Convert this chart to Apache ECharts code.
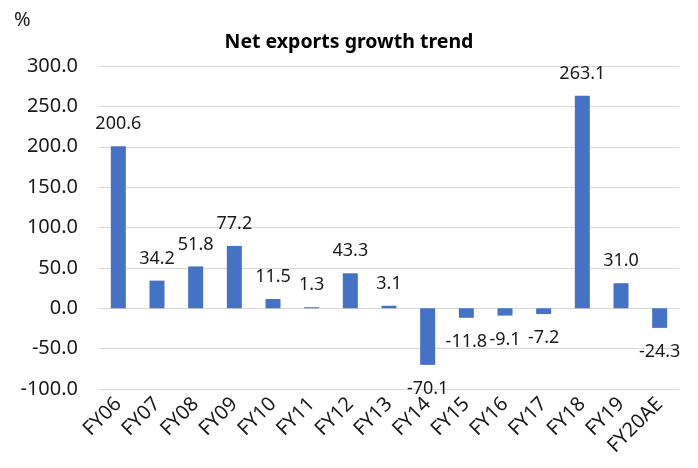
<!DOCTYPE html>
<html><head><meta charset="utf-8">
<script src="https://cdn.jsdelivr.net/npm/echarts@6/dist/echarts.min.js"></script>
<style>html,body{margin:0;padding:0;background:#fff}#c{width:698px;height:468px}</style>
</head><body><div id="c"></div>
<script>
var categories = ['FY06','FY07','FY08','FY09','FY10','FY11','FY12','FY13','FY14','FY15','FY16','FY17','FY18','FY19','FY20AE'];
var growth = [200.6, 34.2, 51.8, 77.2, 11.5, 1.3, 43.3, 3.1, -70.1, -11.8, -9.1, -7.2, 263.1, 31.0, -24.3];
var yTicks = {min: -100, max: 300, interval: 50};
var titleText = 'Net exports growth trend';
var unitText = '%';

var font = '"Noto Sans", sans-serif';
var chart = echarts.init(document.getElementById('c'));
chart.setOption({
  animation: false,
  title: {text: titleText, left: 'center', top: 27, textStyle: {fontFamily: font, fontWeight: 'bold', fontSize: 19.5, color: '#000'}},
  graphic: [{type: 'text', left: 14, top: 10, style: {text: unitText, fontFamily: font, fontSize: 20, fill: '#1a1a1a'}}],
  grid: {left: 99, right: 19, top: 66, bottom: 79, containLabel: false},
  xAxis: {
    type: 'category', data: categories,
    axisLine: {lineStyle: {color: '#d9d9d9', width: 1}},
    axisTick: {show: false},
    axisLabel: {rotate: 45, fontFamily: font, fontSize: 20, color: '#1a1a1a', margin: 12, interval: 0}
  },
  yAxis: {
    type: 'value', min: yTicks.min, max: yTicks.max, interval: yTicks.interval,
    axisLine: {show: false}, axisTick: {show: false},
    splitLine: {lineStyle: {color: '#d9d9d9', width: 1}},
    axisLabel: {fontFamily: font, fontSize: 20, color: '#1a1a1a', margin: 21, formatter: function(v){return v.toFixed(1);}}
  },
  series: [{
    type: 'bar', barWidth: 15,
    data: growth.map(function(v){
      return {value: v, label: {position: v >= 0 ? 'top' : 'bottom', distance: v >= 0 ? 13 : 15}};
    }),
    itemStyle: {color: '#4472C4'},
    label: {show: true, fontFamily: font, fontSize: 18, color: '#1a1a1a', formatter: function(p){return p.value.toFixed(1);}}
  }]
});
</script></body></html>
